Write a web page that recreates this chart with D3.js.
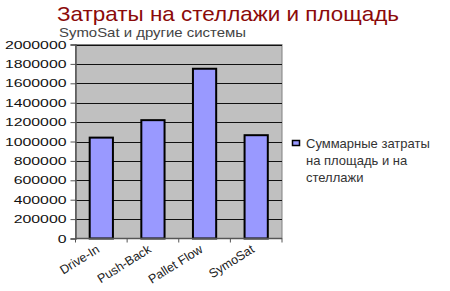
<!DOCTYPE html>
<html>
<head>
<meta charset="utf-8">
<script src="https://cdn.jsdelivr.net/npm/d3@7"></script>
<style>
  body { margin: 0; background: #fff; }
  text { font-family: "Liberation Sans", Arial, sans-serif; }
</style>
</head>
<body>
<div class="chart"></div>
<script>
var categories = ['Drive-In', 'Push-Back', 'Pallet Flow', 'SymoSat'];
var values = [1040000, 1220000, 1750000, 1065000];
var yTicks = [0, 200000, 400000, 600000, 800000, 1000000, 1200000, 1400000, 1600000, 1800000, 2000000];
var titleText = 'Затраты на стеллажи и площадь';
var subtitleText = 'SymoSat и другие системы';
var legendLines = ['Суммарные затраты', 'на площадь и на', 'стеллажи'];

var width = 450;
var height = 291;
var plot = {left: 75.5, top: 44.5, right: 282, bottom: 238.5};

var x = d3.scaleBand()
  .domain(categories)
  .range([plot.left, plot.right])
  .paddingInner(0.55)
  .paddingOuter(0.275);

var xEdge = d3.scaleLinear()
  .domain([0, categories.length])
  .range([plot.left, plot.right]);

var y = d3.scaleLinear()
  .domain([0, 2000000])
  .range([plot.bottom, plot.top]);

var svg = d3.select('.chart').append('svg')
  .attr('width', width)
  .attr('height', height);

// title
svg.append('text')
  .attr('x', 57)
  .attr('y', 21)
  .attr('font-size', 21)
  .attr('fill', '#8b0a0a')
  .attr('textLength', 342)
  .attr('lengthAdjust', 'spacingAndGlyphs')
  .text(titleText);

svg.append('text')
  .attr('x', 59)
  .attr('y', 37)
  .attr('font-size', 13)
  .attr('fill', '#444')
  .attr('textLength', 187)
  .attr('lengthAdjust', 'spacingAndGlyphs')
  .text(subtitleText);

// plot background
svg.append('rect')
  .attr('x', plot.left)
  .attr('y', plot.top)
  .attr('width', plot.right - plot.left)
  .attr('height', plot.bottom - plot.top)
  .attr('fill', '#c0c0c0')
  .attr('stroke', '#808080')
  .attr('stroke-width', 1);

// gridlines
svg.append('g')
  .selectAll('line')
  .data(yTicks.slice(1))
  .enter().append('line')
    .attr('x1', plot.left)
    .attr('x2', plot.right)
    .attr('y1', function(d) { return Math.round(y(d)) + 0.5; })
    .attr('y2', function(d) { return Math.round(y(d)) + 0.5; })
    .attr('stroke', '#111')
    .attr('stroke-width', 1);

// bars
svg.append('g')
  .selectAll('rect')
  .data(values)
  .enter().append('rect')
    .attr('x', function(d, i) { return x(categories[i]); })
    .attr('y', function(d) { return y(d); })
    .attr('width', x.bandwidth())
    .attr('height', function(d) { return y(0) - y(d); })
    .attr('fill', '#9999ff')
    .attr('stroke', '#000')
    .attr('stroke-width', 2);

// y axis
var yAxis = d3.axisLeft(y)
  .tickValues(yTicks)
  .tickSize(5)
  .tickFormat(d3.format('d'));

var gY = svg.append('g')
  .attr('transform', 'translate(' + plot.left + ',0)')
  .call(yAxis);
gY.select('.domain').attr('stroke', '#555').attr('stroke-width', 1.5);
gY.selectAll('.tick line').attr('stroke', '#555');
gY.selectAll('.tick text')
  .attr('x', -9)
  .attr('font-size', 11)
  .attr('fill', '#111')
  .attr('textLength', function(d) { return String(d).length * 8.8; })
  .attr('lengthAdjust', 'spacingAndGlyphs');

// x axis
var gX = svg.append('g')
  .attr('transform', 'translate(0,' + plot.bottom + ')');
gX.append('line')
  .attr('x1', plot.left)
  .attr('x2', plot.right)
  .attr('stroke', '#555')
  .attr('stroke-width', 1.5);
gX.selectAll('.cat-tick')
  .data(d3.range(categories.length + 1))
  .enter().append('line')
    .attr('class', 'cat-tick')
    .attr('x1', function(d) { return xEdge(d); })
    .attr('x2', function(d) { return xEdge(d); })
    .attr('y1', 0)
    .attr('y2', 4)
    .attr('stroke', '#555');
gX.selectAll('.cat-label')
  .data(categories)
  .enter().append('text')
    .attr('class', 'cat-label')
    .attr('text-anchor', 'end')
    .attr('font-size', 12.5)
    .attr('fill', '#222')
    .attr('transform', function(d) {
      return 'translate(' + (x(d) + x.bandwidth() / 2 - 1) + ',13) rotate(-32)';
    })
    .text(function(d) { return d; });

// legend
var legend = svg.append('g')
  .attr('transform', 'translate(292,140)');
legend.append('rect')
  .attr('x', 0.5)
  .attr('y', 0.5)
  .attr('width', 7)
  .attr('height', 5)
  .attr('fill', '#9999ff')
  .attr('stroke', '#000')
  .attr('stroke-width', 1.5);
legend.selectAll('text')
  .data(legendLines)
  .enter().append('text')
    .attr('x', 14)
    .attr('y', function(d, i) { return 8 + i * 17; })
    .attr('font-size', 13)
    .attr('fill', '#333')
    .text(function(d) { return d; });
</script>
</body>
</html>
